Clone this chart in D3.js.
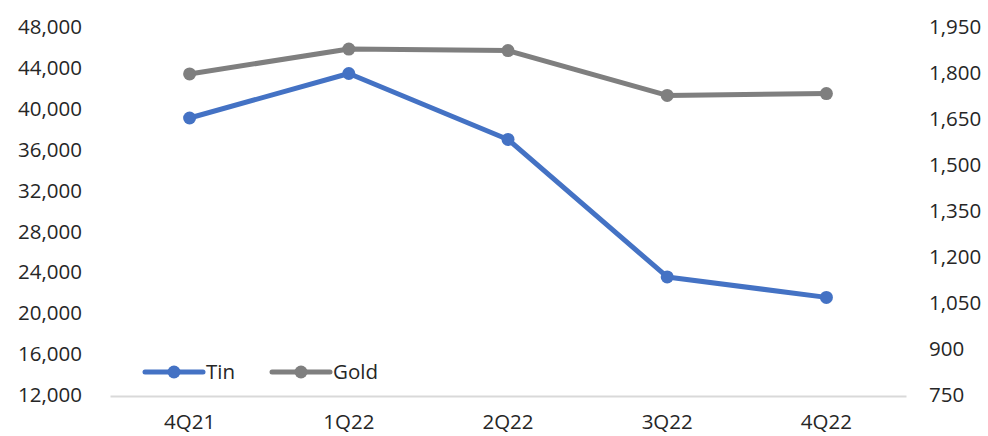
<!DOCTYPE html>
<html>
<head>
<meta charset="utf-8">
<script src="https://cdn.jsdelivr.net/npm/d3@7"></script>
<style>
  body { margin: 0; background: #fff; }
  text { font-family: "Open Sans", sans-serif; fill: #262626; }
</style>
</head>
<body>
<div id="chart"></div>
<script>
  // data
  const quarters = ["4Q21", "1Q22", "2Q22", "3Q22", "4Q22"];
  const tin = [39100, 43450, 37000, 23550, 21550];
  const gold = [1797, 1878, 1873, 1727, 1733];
  const leftTicks = [12000, 16000, 20000, 24000, 28000, 32000, 36000, 40000, 44000, 48000];
  const rightTicks = [750, 900, 1050, 1200, 1350, 1500, 1650, 1800, 1950];

  const width = 988, height = 436;
  const margin = { top: 27, right: 82, bottom: 41, left: 110 };
  const fontSize = "20.5px";

  const svg = d3.select("#chart")
    .append("svg")
    .attr("width", width)
    .attr("height", height);

  const x = d3.scaleBand()
    .domain(quarters)
    .range([margin.left, width - margin.right]);

  const yL = d3.scaleLinear()
    .domain([12000, 48000])
    .range([height - margin.bottom, margin.top]);

  const yR = d3.scaleLinear()
    .domain([750, 1950])
    .range([height - margin.bottom, margin.top]);

  const fmt = d3.format(",");

  // left axis labels
  svg.append("g")
    .attr("transform", "translate(82,0)")
    .call(d3.axisLeft(yL).tickValues(leftTicks).tickFormat(fmt).tickSize(0).tickPadding(0))
    .call(g => g.select(".domain").remove())
    .selectAll("text")
    .style("font-size", fontSize);

  // right axis labels
  svg.append("g")
    .attr("transform", "translate(929,0)")
    .call(d3.axisRight(yR).tickValues(rightTicks).tickFormat(fmt).tickSize(0).tickPadding(0))
    .call(g => g.select(".domain").remove())
    .selectAll("text")
    .style("font-size", fontSize);

  // x axis
  svg.append("g")
    .attr("transform", `translate(0,${height - margin.bottom + 1})`)
    .call(d3.axisBottom(x).tickSize(0).tickPadding(18))
    .call(g => g.select(".domain").attr("stroke", "#d9d9d9").attr("stroke-width", 2))
    .selectAll("text")
    .style("font-size", fontSize);

  const cx = d => x(d) + x.bandwidth() / 2;

  const series = [
    { name: "Tin", values: tin, y: yL, color: "#4472c4" },
    { name: "Gold", values: gold, y: yR, color: "#7f7f7f" }
  ];

  // draw gold first so tin sits on top
  series.slice().reverse().forEach(s => {
    const line = d3.line()
      .x((d, i) => cx(quarters[i]))
      .y(d => s.y(d));
    svg.append("path")
      .datum(s.values)
      .attr("d", line)
      .attr("fill", "none")
      .attr("stroke", s.color)
      .attr("stroke-width", 5)
      .attr("stroke-linejoin", "round");
    svg.append("g")
      .selectAll("circle")
      .data(s.values)
      .join("circle")
      .attr("cx", (d, i) => cx(quarters[i]))
      .attr("cy", d => s.y(d))
      .attr("r", 6.5)
      .attr("fill", s.color);
  });

  // legend
  const legend = svg.append("g").attr("transform", "translate(145,372)");
  series.forEach((s, i) => {
    const g = legend.append("g").attr("transform", `translate(${i * 127},0)`);
    g.append("line")
      .attr("x1", 0).attr("x2", 58)
      .attr("stroke", s.color)
      .attr("stroke-width", 5)
      .attr("stroke-linecap", "round");
    g.append("circle").attr("cx", 29).attr("r", 6.5).attr("fill", s.color);
    g.append("text")
      .attr("x", 61)
      .attr("dy", "0.35em")
      .style("font-size", fontSize)
      .text(s.name);
  });
</script>
</body>
</html>
